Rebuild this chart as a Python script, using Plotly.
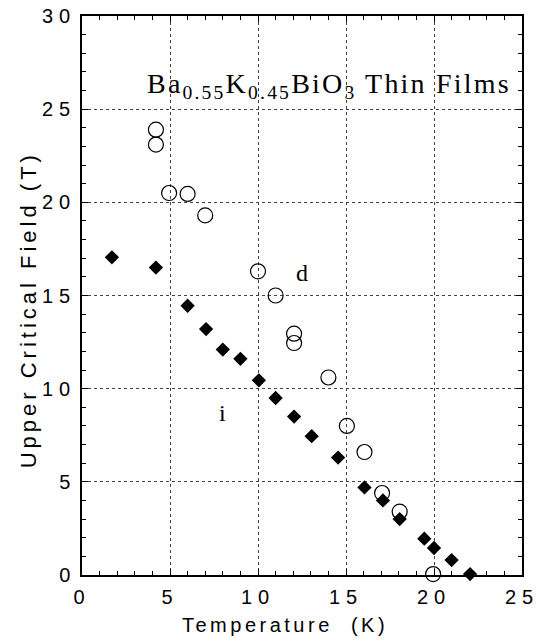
import plotly.graph_objects as go

# Open circles (d)
d_T = [4.2, 4.2, 4.95, 6.0, 7.0, 10.0, 11.0, 12.05, 12.05, 14.0, 15.05, 16.05, 17.05, 18.05, 19.95]
d_H = [23.9, 23.1, 20.5, 20.45, 19.3, 16.3, 15.0, 12.95, 12.45, 10.6, 8.0, 6.6, 4.4, 3.4, 0.05]

# Filled diamonds (i)
i_T = [1.7, 4.2, 6.0, 7.05, 8.0, 9.0, 10.05, 11.0, 12.05, 13.05, 14.55, 16.05, 17.1, 18.05, 19.45, 20.0, 21.0, 22.05]
i_H = [17.05, 16.5, 14.45, 13.2, 12.1, 11.6, 10.45, 9.5, 8.5, 7.45, 6.3, 4.7, 4.0, 3.0, 1.95, 1.45, 0.8, 0.05]

x_ticks = [0, 5, 10, 15, 20, 25]
x_labels = ["0", "5", "10", "15", "20", "25"]
y_ticks = [0, 5, 10, 15, 20, 25, 30]
y_labels = ["0", "5", "10", "15", "20", "25", "30"]


def spaced(s, px):
    return '<span style="letter-spacing:%spx">%s</span>' % (px, s)


fig = go.Figure()
fig.add_trace(go.Scatter(
    x=d_T, y=d_H, mode="markers",
    marker=dict(symbol="circle-open", size=15, color="black", line=dict(width=1.2, color="black")),
    showlegend=False, cliponaxis=False))
fig.add_trace(go.Scatter(
    x=i_T, y=i_H, mode="markers",
    marker=dict(symbol="diamond", size=11, color="black", line=dict(width=0)),
    showlegend=False, cliponaxis=False))

serif = "Liberation Serif, Times New Roman, serif"
sans = "Liberation Sans, Arial, sans-serif"

fig.add_annotation(x=14.03, y=26.25,
                   text=spaced("Ba<sub>0.55</sub>K<sub>0.45</sub>BiO<sub>3</sub> Thin Films", 2.2),
                   showarrow=False, font=dict(family=serif, size=28, color="black"))
fig.add_annotation(x=12.5, y=16.2, text="d", showarrow=False, font=dict(family=serif, size=24, color="black"))
fig.add_annotation(x=8.0, y=8.7, text="i", showarrow=False, font=dict(family=serif, size=24, color="black"))

# Axis titles as annotations (positioned as in the reference)
fig.add_annotation(xref="paper", yref="paper", x=0.461, y=-0.09,
                   xanchor="center", yanchor="middle",
                   text=spaced("Temperature  (K)", 3.5), showarrow=False,
                   font=dict(family=sans, size=20, color="black"))
fig.add_annotation(xref="paper", yref="paper", x=-0.122, y=0.474, textangle=-90,
                   xanchor="center", yanchor="middle",
                   text=spaced("Upper Critical Field (T)", 4), showarrow=False,
                   font=dict(family=sans, size=22, color="black"))

axis_common = dict(
    showline=True, linecolor="black", linewidth=1.5, mirror="allticks",
    ticks="inside", ticklen=6, tickcolor="black", tickwidth=1,
    showgrid=True, gridcolor="#444", gridwidth=1, griddash="dot",
    zeroline=False, automargin=False,
    tickfont=dict(family=sans, size=20, color="black"),
    ticklabeloverflow="allow",
    minor=dict(dtick=1, ticks="inside", ticklen=4, tickcolor="black", tickwidth=1, showgrid=False),
)

fig.update_xaxes(range=[0, 25], tickvals=x_ticks, ticktext=[spaced(t, 6) for t in x_labels],
                 ticklabelstandoff=3, **axis_common)
fig.update_yaxes(range=[0, 30], tickvals=y_ticks, ticktext=[spaced(t, 6) for t in y_labels],
                 **axis_common)

fig.update_layout(
    width=538, height=642,
    margin=dict(l=82, r=16, t=16, b=67),
    paper_bgcolor="white", plot_bgcolor="white",
)

fig.write_html("out.html")
